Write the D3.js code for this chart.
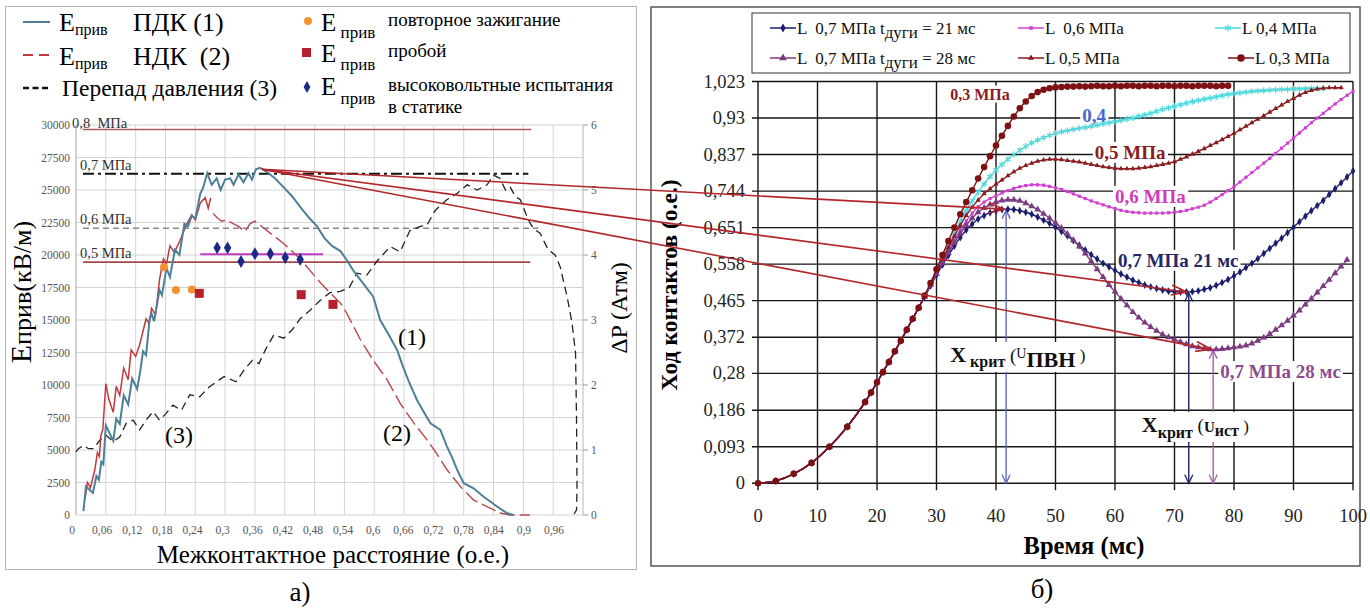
<!DOCTYPE html>
<html><head><meta charset="utf-8">
<script src="https://cdn.jsdelivr.net/npm/d3@7"></script>
<style>
body{margin:0;background:#fff}
svg{display:block}
text{font-family:"Liberation Serif","Times New Roman",serif;white-space:pre}
</style>
</head><body>
<svg id="fig" width="1370" height="609" font-family="Liberation Serif, serif"></svg>
<script>
// ===== Panel а): breakdown field strength vs. contact gap =====
const gapTicks = [0,0.06,0.12,0.18,0.24,0.3,0.36,0.42,0.48,0.54,0.6,0.66,0.72,0.78,0.84,0.9,0.96];
const fieldTicks = [0,2500,5000,7500,10000,12500,15000,17500,20000,22500,25000,27500,30000];
const dpTicks = [0,1,2,3,4,5,6];

// curve (1) E_прив ПДК  [gap, kV/m]
const curvePDK = [[0.015,300],[0.02,2200],[0.034,1700],[0.041,3000],[0.046,2700],[0.051,4100],[0.055,3900],[0.06,6900],[0.075,5700],[0.081,7400],[0.088,7000],[0.096,9200],[0.105,8500],[0.113,10500],[0.123,9700],[0.129,11000],[0.135,12600],[0.141,12300],[0.148,15000],[0.152,15500],[0.157,14900],[0.168,17300],[0.173,16900],[0.182,19000],[0.189,18300],[0.199,20400],[0.208,20000],[0.218,22400],[0.225,22200],[0.233,23000],[0.24,22800],[0.25,24700],[0.256,25200],[0.264,26300],[0.273,25400],[0.283,25900],[0.291,25000],[0.3,25800],[0.31,25900],[0.317,25400],[0.327,26200],[0.337,25600],[0.347,26300],[0.354,25800],[0.362,26600],[0.37,26700],[0.384,26400],[0.4,25900],[0.418,25200],[0.435,24500],[0.451,23700],[0.468,22900],[0.485,22200],[0.5,21300],[0.515,20700],[0.532,20300],[0.545,19600],[0.558,18800],[0.578,17800],[0.598,16800],[0.612,15000],[0.63,13800],[0.646,12700],[0.656,11600],[0.666,10600],[0.676,9700],[0.686,8850],[0.7,7900],[0.713,7050],[0.733,6550],[0.746,5300],[0.757,4400],[0.767,3450],[0.78,2450],[0.8,2050],[0.82,1400],[0.835,1000],[0.847,650],[0.867,150],[0.88,0]];
// curve (2) E_прив НДК, rising and falling branches
const curveNDKRise = [[0.018,1200],[0.023,2500],[0.029,2100],[0.038,3500],[0.043,4800],[0.047,4500],[0.05,6100],[0.054,6600],[0.06,10100],[0.066,8900],[0.075,7900],[0.081,9900],[0.088,9200],[0.096,11300],[0.105,10400],[0.111,12700],[0.12,12200],[0.128,13100],[0.141,15100],[0.147,14700],[0.152,15900],[0.16,15400],[0.168,18100],[0.176,19700],[0.182,19300],[0.189,20700],[0.198,20200],[0.209,21100],[0.223,22400],[0.233,23100],[0.24,22700],[0.25,24000],[0.26,24400],[0.266,23600],[0.271,24400]];
const curveNDKFall = [[0.276,23200],[0.283,22900],[0.293,22600],[0.303,22700],[0.317,22400],[0.327,22200],[0.34,21800],[0.35,22400],[0.36,22600],[0.377,22100],[0.39,21700],[0.404,21300],[0.417,20900],[0.434,20300],[0.451,19700],[0.471,18800],[0.491,17900],[0.508,17200],[0.532,16300],[0.545,15500],[0.572,13500],[0.598,11900],[0.626,10400],[0.652,8600],[0.679,7100],[0.706,5800],[0.726,4700],[0.746,3500],[0.773,2200],[0.8,1150],[0.827,650],[0.853,150],[0.873,0],[0.913,0]];
// curve (3) pressure difference [gap, atm]
const curveDP = [[0,0.97],[0.005,1.02],[0.015,1.07],[0.025,1.02],[0.035,1.02],[0.048,1.15],[0.06,1.23],[0.075,1.13],[0.088,1.2],[0.101,1.41],[0.115,1.46],[0.128,1.31],[0.141,1.46],[0.155,1.59],[0.168,1.46],[0.181,1.56],[0.195,1.69],[0.212,1.61],[0.229,1.85],[0.249,1.82],[0.268,1.97],[0.298,2.13],[0.322,2.05],[0.338,2.23],[0.355,2.38],[0.368,2.33],[0.381,2.54],[0.398,2.77],[0.418,2.72],[0.435,2.85],[0.451,3.02],[0.471,3.15],[0.491,3.3],[0.511,3.42],[0.532,3.44],[0.55,3.5],[0.565,3.72],[0.585,3.69],[0.605,3.9],[0.632,4.13],[0.652,4.05],[0.672,4.38],[0.693,4.44],[0.706,4.46],[0.723,4.69],[0.746,4.85],[0.767,4.95],[0.787,5.08],[0.807,5.0],[0.827,5.08],[0.84,5.23],[0.853,5.18],[0.864,5.0],[0.873,5.05],[0.884,4.9],[0.894,4.85],[0.91,4.54],[0.92,4.41],[0.934,4.33],[0.95,4.08],[0.964,4.0],[0.974,3.82],[0.988,3.36],[0.998,2.95],[1.005,2.49],[1.007,1.46],[1.008,0.44],[1.007,0.08],[1.001,0]];
// experimental points
const reignitionPts = [[0.177,19050],[0.201,17300],[0.233,17350]];
const breakdownPts = [[0.248,17050],[0.453,16950],[0.517,16200]];
const staticTestPts = [[0.284,20550],[0.305,20550],[0.332,19500],[0.36,20100],[0.391,20100],[0.421,19800],[0.451,19650]];
const staticBand = [[0.25,20050],[0.497,20050]];
// gas pressure levels
const levelNames = ["0,8  МПа","0,7 МПа","0,6 МПа","0,5 МПа"];
const levelField = [29650,26250,22050,19450];
const levelEnd = [0.916,0.91,0.93,0.914];
const levelStart = 0.014;

// ===== Panel б): contact travel vs. time =====
const timeTicks = [0,10,20,30,40,50,60,70,80,90,100];
const travelTicks = [0,0.093,0.186,0.28,0.372,0.465,0.558,0.651,0.744,0.837,0.93,1.023];
const travelTickLabels = ["0","0,093","0,186","0,28","0,372","0,465","0,558","0,651","0,744","0,837","0,93","1,023"];
const riseTime = [0,3,6,9,12,15,18,19,20,21,22,23,24,25,26,27];
const riseTravel = [0,0.006,0.024,0.052,0.093,0.144,0.207,0.231,0.257,0.283,0.309,0.336,0.363,0.391,0.419,0.447];
const tailTime = [28,29,30,31,32,33,34,35,36,37,38,39,40,41,42,43,44,45,46,47,48,49,50,51,52,53,54,55,56,57,58,59,60,61,62,63,64,65,66,67,68,69,70,71,72,73,74,75,76,77,78,79,80,81,82,83,84,85,86,87,88,89,90,91,92,93,94,95,96,97,98,99,100];
const travel04 = [0.476,0.508,0.54,0.573,0.606,0.637,0.667,0.694,0.719,0.741,0.762,0.781,0.798,0.812,0.825,0.837,0.848,0.858,0.867,0.874,0.88,0.886,0.891,0.895,0.898,0.901,0.904,0.906,0.909,0.912,0.915,0.918,0.921,0.924,0.927,0.93,0.934,0.938,0.942,0.947,0.952,0.956,0.96,0.964,0.968,0.972,0.975,0.978,0.981,0.984,0.987,0.99,0.992,0.994,0.996,0.998,0.999,1.0,1.001,1.002,1.003,1.003,1.004,1.004,1.005,1.005,1.005,1.005];
const travel06 = [0.476,0.506,0.535,0.564,0.592,0.619,0.645,0.668,0.688,0.704,0.716,0.725,0.732,0.739,0.745,0.751,0.755,0.758,0.76,0.76,0.759,0.756,0.752,0.748,0.743,0.737,0.731,0.725,0.719,0.714,0.709,0.704,0.699,0.695,0.692,0.69,0.689,0.688,0.688,0.688,0.688,0.689,0.69,0.692,0.695,0.699,0.703,0.708,0.716,0.725,0.735,0.745,0.755,0.767,0.779,0.791,0.803,0.815,0.827,0.84,0.853,0.866,0.879,0.892,0.905,0.918,0.93,0.942,0.954,0.966,0.977,0.988,0.998];
const travel05 = [0.476,0.507,0.538,0.569,0.6,0.629,0.657,0.682,0.703,0.721,0.737,0.75,0.762,0.772,0.783,0.793,0.802,0.809,0.815,0.82,0.823,0.825,0.825,0.824,0.822,0.82,0.818,0.815,0.812,0.809,0.806,0.804,0.802,0.801,0.801,0.801,0.802,0.804,0.806,0.809,0.812,0.815,0.819,0.825,0.831,0.838,0.845,0.852,0.86,0.867,0.875,0.883,0.891,0.9,0.909,0.918,0.927,0.936,0.945,0.954,0.963,0.972,0.98,0.988,0.995,1.0,1.004,1.006,1.007,1.007,1.007];
const travel03 = [0.478,0.51,0.545,0.581,0.617,0.651,0.685,0.716,0.746,0.776,0.805,0.833,0.86,0.885,0.91,0.934,0.955,0.972,0.986,0.996,1.002,1.006,1.008,1.009,1.01,1.01,1.011,1.01,1.011,1.012,1.011,1.011,1.012,1.011,1.012,1.012,1.011,1.012,1.012,1.011,1.012,1.012,1.011,1.012,1.012,1.011,1.012,1.012,1.012,1.011,1.012,1.012];
const travel07t21 = [0.475,0.503,0.53,0.556,0.58,0.604,0.626,0.645,0.66,0.673,0.682,0.689,0.694,0.697,0.698,0.697,0.694,0.69,0.685,0.678,0.67,0.662,0.652,0.641,0.63,0.618,0.606,0.594,0.582,0.571,0.56,0.551,0.542,0.533,0.525,0.517,0.511,0.505,0.5,0.496,0.492,0.489,0.488,0.487,0.487,0.488,0.49,0.494,0.498,0.504,0.511,0.519,0.528,0.538,0.549,0.56,0.572,0.585,0.598,0.611,0.624,0.638,0.652,0.666,0.68,0.694,0.707,0.72,0.735,0.75,0.765,0.78,0.795];
const travel07t28 = [0.475,0.505,0.533,0.56,0.586,0.612,0.636,0.657,0.675,0.69,0.701,0.71,0.716,0.72,0.722,0.722,0.719,0.713,0.705,0.697,0.686,0.675,0.663,0.65,0.635,0.619,0.603,0.585,0.565,0.545,0.525,0.505,0.488,0.47,0.453,0.436,0.422,0.409,0.398,0.388,0.379,0.372,0.366,0.36,0.354,0.349,0.346,0.343,0.341,0.341,0.342,0.344,0.346,0.348,0.351,0.356,0.363,0.371,0.38,0.391,0.402,0.414,0.427,0.44,0.455,0.47,0.486,0.502,0.518,0.535,0.552,0.569];
// critical travel points on the 0,7 МПа curves [time, travel]
const critPVN = [41.7,0.698];
const crit21 = [72.4,0.487];
const crit28 = [76.5,0.341];
// field peak from which the links start [gap, kV/m]
const linkOrigin = [0.374,26600];

// ---------- helpers ----------
const svg = d3.select("#fig");
const defs = svg.append("defs");
function openHead(id, color, len, half, w){
  defs.append("marker").attr("id",id)
    .attr("viewBox",`0 0 ${len+2} ${2*half+2}`).attr("refX",len+0.5).attr("refY",half+1)
    .attr("markerWidth",len+2).attr("markerHeight",2*half+2)
    .attr("markerUnits","userSpaceOnUse").attr("orient","auto-start-reverse")
    .append("path").attr("d",`M1,1 L${len+0.5},${half+1} L1,${2*half+1}`)
    .attr("fill","none").attr("stroke",color).attr("stroke-width",w);
}
openHead("hRed","#b3262b",16,5,1.6);
openHead("hBlue","#5a68c0",9,4,1.3);
openHead("hNavy","#1f2060",9,4,1.3);
openHead("hPurple","#a463a8",9,4,1.3);

function rich(g, x, y, parts, attrs){
  const t = g.append("text").attr("x",x).attr("y",y);
  Object.entries(attrs||{}).forEach(([k,v])=>t.attr(k,v));
  parts.forEach(p=>{
    const s = t.append("tspan").text(p.t);
    if(p.size) s.attr("font-size",p.size);
    if(p.dy) s.attr("dy",p.dy);
    if(p.dx) s.attr("dx",p.dx);
    if(p.x!==undefined) s.attr("x",p.x);
    if(p.w) s.attr("font-weight",p.w);
  });
  return t;
}

// ---------- panel frames ----------
svg.append("rect").attr("x",5.5).attr("y",6.5).attr("width",631).attr("height",563)
  .attr("fill","none").attr("stroke","#b5b5b5");
svg.append("rect").attr("x",651).attr("y",7).attr("width",709).attr("height",559)
  .attr("fill","none").attr("stroke","#555").attr("stroke-width",1.5);

// ================= panel а) =================
const xGap = d3.scaleLinear().domain([0,1.02]).range([76,583]);
const xGapLabel = d3.scaleLinear().domain([0,0.96]).range([72,554]);
const yField = d3.scaleLinear().domain([0,30000]).range([515,125]);
const yDP = d3.scaleLinear().domain([0,6]).range([515,125]);
const A = svg.append("g");

A.selectAll(".gv").data(gapTicks).join("line")
  .attr("x1",d=>xGap(d)).attr("x2",d=>xGap(d)).attr("y1",yField(30000)).attr("y2",yField(0))
  .attr("stroke","#d4d4d4").attr("stroke-width",1);
A.selectAll(".gh").data(fieldTicks).join("line")
  .attr("x1",xGap(0)).attr("x2",xGap(1.02)).attr("y1",d=>yField(d)).attr("y2",d=>yField(d))
  .attr("stroke","#d4d4d4").attr("stroke-width",1);
A.append("line").attr("x1",xGap(0)).attr("x2",xGap(0)).attr("y1",yField(30000)).attr("y2",yField(0)).attr("stroke","#b8b8b8");
A.append("line").attr("x1",xGap(1.02)).attr("x2",xGap(1.02)).attr("y1",yField(30000)).attr("y2",yField(0)).attr("stroke","#b8b8b8");
A.selectAll(".rt").data(dpTicks).join("line")
  .attr("x1",xGap(1.02)).attr("x2",xGap(1.02)+5).attr("y1",d=>yDP(d)).attr("y2",d=>yDP(d)).attr("stroke","#999");

A.selectAll(".yl").data(fieldTicks).join("text")
  .attr("x",70).attr("y",d=>yField(d)+4).attr("text-anchor","end")
  .attr("font-size",11.5).attr("fill","#555").text(d=>d);
A.selectAll(".xl").data(gapTicks).join("text")
  .attr("x",d=>xGapLabel(d)).attr("y",534).attr("text-anchor","middle")
  .attr("font-size",11.5).attr("fill","#555").text(d=>String(d).replace(".",","));
A.selectAll(".pl").data(dpTicks).join("text")
  .attr("x",xGap(1.02)+8).attr("y",d=>yDP(d)+4)
  .attr("font-size",11.5).attr("fill","#555").text(d=>d);

// pressure levels
const levelStyles = [
  {stroke:"#b05a5a",w:1.6,dash:null},
  {stroke:"#111",w:2,dash:"11,4,3,4"},
  {stroke:"#888",w:1.5,dash:"6,4"},
  {stroke:"#a24848",w:1.8,dash:null}
];
levelNames.forEach((name,i)=>{
  const st = levelStyles[i];
  A.append("line").attr("x1",xGap(levelStart)).attr("x2",xGap(levelEnd[i]))
    .attr("y1",yField(levelField[i])).attr("y2",yField(levelField[i]))
    .attr("stroke",st.stroke).attr("stroke-width",st.w).attr("stroke-dasharray",st.dash);
  A.append("text").attr("x",i===0?72:80).attr("y",yField(levelField[i])-(i===0?2:4))
    .attr("font-size",14.5).attr("fill","#333").text(name);
});
A.append("line").attr("x1",xGap(staticBand[0][0])).attr("x2",xGap(staticBand[1][0]))
  .attr("y1",yField(staticBand[0][1])).attr("y2",yField(staticBand[1][1]))
  .attr("stroke","#c23ac2").attr("stroke-width",2);

const lineF = d3.line().x(d=>xGap(d[0])).y(d=>yField(d[1]));
const lineP = d3.line().x(d=>xGap(d[0])).y(d=>yDP(d[1]));
A.append("path").attr("d",lineP(curveDP)).attr("fill","none").attr("stroke","#222")
  .attr("stroke-width",1.3).attr("stroke-dasharray","8,5");
A.append("path").attr("d",lineF(curveNDKRise)).attr("fill","none").attr("stroke","#c0393f").attr("stroke-width",1.5);
A.append("path").attr("d",lineF(curveNDKFall)).attr("fill","none").attr("stroke","#b8474c")
  .attr("stroke-width",1.4).attr("stroke-dasharray","15,5");
A.append("path").attr("d",lineF(curvePDK)).attr("fill","none").attr("stroke","#4d8096").attr("stroke-width",2);

A.selectAll(".ro").data(reignitionPts).join("circle")
  .attr("cx",d=>xGap(d[0])).attr("cy",d=>yField(d[1])).attr("r",4).attr("fill","#f5922f");
A.selectAll(".bd").data(breakdownPts).join("rect")
  .attr("x",d=>xGap(d[0])-4.5).attr("y",d=>yField(d[1])-4.5).attr("width",9).attr("height",9).attr("fill","#b71f2a");
A.selectAll(".st").data(staticTestPts).join("path")
  .attr("transform",d=>`translate(${xGap(d[0])},${yField(d[1])})`)
  .attr("d",d3.symbol(d3.symbolDiamond,48)).attr("fill","#1c2a86");

A.append("text").attr("x",398).attr("y",345).attr("font-size",24).text("(1)");
A.append("text").attr("x",383).attr("y",441).attr("font-size",24).text("(2)");
A.append("text").attr("x",165).attr("y",443).attr("font-size",24).text("(3)");

// axis titles
rich(A,0,0,[{t:"E",size:30},{t:"прив",size:26},{t:"(кВ/м)",size:26}],
  {transform:"translate(31,292) rotate(-90)","text-anchor":"middle"});
rich(A,0,0,[{t:"ΔP (Атм)",size:24}],{transform:"translate(627,308) rotate(-90)","text-anchor":"middle"});
A.append("text").attr("x",333).attr("y",563).attr("text-anchor","middle").attr("font-size",25)
  .text("Межконтактное расстояние (о.е.)");
A.append("text").attr("x",300).attr("y",601).attr("text-anchor","middle").attr("font-size",27).text("а)");

// legend of panel а)
A.append("line").attr("x1",23).attr("x2",50).attr("y1",22).attr("y2",22).attr("stroke","#4d8096").attr("stroke-width",2);
rich(A,59,31,[{t:"E",size:26},{t:"прив",size:16,dy:4},{t:"ПДК",size:26,x:133,dy:-4},{t:" (1)",size:26}]);
A.append("line").attr("x1",23).attr("x2",50).attr("y1",55).attr("y2",55).attr("stroke","#c0393f")
  .attr("stroke-width",1.8).attr("stroke-dasharray","10,6");
rich(A,59,65,[{t:"E",size:26},{t:"прив",size:16,dy:4},{t:"НДК",size:26,x:133,dy:-4},{t:"  (2)",size:26}]);
A.append("line").attr("x1",23).attr("x2",50).attr("y1",88).attr("y2",88).attr("stroke","#111")
  .attr("stroke-width",2.4).attr("stroke-dasharray","6,3.5");
A.append("text").attr("x",62).attr("y",96).attr("font-size",23.5).text("Перепад давления (3)");

A.append("circle").attr("cx",308).attr("cy",21).attr("r",4).attr("fill","#f5922f");
rich(A,321,31,[{t:"E",size:25},{t:" прив",size:17,dy:7}]);
A.append("text").attr("x",388).attr("y",26).attr("font-size",19).text("повторное зажигание");
A.append("rect").attr("x",302).attr("y",48).attr("width",9).attr("height",9).attr("fill","#b71f2a");
rich(A,321,62,[{t:"E",size:25},{t:" прив",size:17,dy:8}]);
A.append("text").attr("x",388).attr("y",57).attr("font-size",19).text("пробой");
A.append("path").attr("transform","translate(307,87)").attr("d",d3.symbol(d3.symbolDiamond,40)).attr("fill","#1c2a86");
rich(A,321,95,[{t:"E",size:25},{t:" прив",size:17,dy:9}]);
A.append("text").attr("x",388).attr("y",91).attr("font-size",19).text("высоковольтные испытания");
A.append("text").attr("x",388).attr("y",113).attr("font-size",19).text("в статике");

// ================= panel б) =================
const xTime = d3.scaleLinear().domain([0,100]).range([758,1353]);
const yTravel = d3.scaleLinear().domain([0,1.023]).range([483.3,81.5]);
const B = svg.append("g");
const gridB = B.append("g"), critB = B.append("g"), bgB = B.append("g"), curvesB = B.append("g"), textB = B.append("g");

gridB.selectAll("line.v").data(timeTicks).join("line")
  .attr("x1",d=>xTime(d)).attr("x2",d=>xTime(d)).attr("y1",yTravel(1.023)).attr("y2",yTravel(0)+7)
  .attr("stroke","#161616").attr("stroke-width",1.4);
gridB.selectAll("line.h").data(travelTicks).join("line")
  .attr("x1",xTime(0)-6).attr("x2",xTime(100)).attr("y1",d=>yTravel(d)).attr("y2",d=>yTravel(d))
  .attr("stroke","#161616").attr("stroke-width",1.4);
gridB.selectAll("text.x").data(timeTicks).join("text")
  .attr("x",d=>xTime(d)).attr("y",522).attr("text-anchor","middle").attr("font-size",18.5).attr("fill","#222").text(d=>d);
gridB.selectAll("text.y").data(travelTicks).join("text")
  .attr("x",745).attr("y",(d)=>yTravel(d)+6).attr("text-anchor","end").attr("font-size",18.5).attr("fill","#222")
  .text((d,i)=>travelTickLabels[i]);

rich(B,0,0,[{t:"Ход контактов (о.е.)",size:23.5,w:"bold"}],{transform:"translate(677,285) rotate(-90)","text-anchor":"middle"});
B.append("text").attr("x",1084).attr("y",554).attr("text-anchor","middle").attr("font-size",24.5)
  .attr("font-weight","bold").text("Время (мс)");
B.append("text").attr("x",1042).attr("y",598).attr("text-anchor","middle").attr("font-size",27).text("б)");

// critical travel markers
[[critPVN,"#5a68c0","hBlue"],[crit21,"#1f2060","hNavy"],[crit28,"#a463a8","hPurple"]].forEach(([p,c,h])=>{
  critB.append("line").attr("x1",xTime(p[0])).attr("x2",xTime(p[0]))
    .attr("y1",yTravel(p[1])+1).attr("y2",yTravel(0))
    .attr("stroke",c).attr("stroke-width",1.4)
    .attr("marker-start",`url(#${h})`).attr("marker-end",`url(#${h})`);
});

// series
const series = [
  {name:"L 0,4 МПа", values:travel04, color:"#4fd9dc", sym:d3.symbolAsterisk, size:28, stroke:true},
  {name:"L 0,6 МПа", values:travel06, color:"#d040d0", sym:d3.symbolSquare, size:10},
  {name:"L 0,5 МПа", values:travel05, color:"#8a1b1e", sym:d3.symbolTriangle, size:12},
  {name:"L 0,7 МПа 21", values:travel07t21, color:"#1b1d6e", sym:d3.symbolDiamond, size:18},
  {name:"L 0,7 МПа 28", values:travel07t28, color:"#7c3a80", sym:d3.symbolTriangle, size:20},
  {name:"L 0,3 МПа", values:travel03, color:"#7e1014", sym:d3.symbolCircle, size:34}
];
const lineT = d3.line().x(d=>xTime(d[0])).y(d=>yTravel(d[1])).curve(d3.curveMonotoneX);
series.forEach(s=>{
  const pts = riseTime.map((t,i)=>[t,riseTravel[i]]).concat(s.values.map((v,i)=>[tailTime[i],v]));
  const g = curvesB.append("g");
  g.append("path").attr("d",lineT(pts)).attr("fill","none").attr("stroke",s.color).attr("stroke-width",1.4);
  g.selectAll("path.m").data(pts).join("path")
    .attr("transform",d=>`translate(${xTime(d[0])},${yTravel(d[1])})`)
    .attr("d",d3.symbol(s.sym,s.size))
    .attr("fill",s.stroke?"none":s.color).attr("stroke",s.stroke?s.color:"none").attr("stroke-width",1.2);
});

// in-plot labels with white backing
function tag(x, y, parts, color){
  const t = rich(textB,x,y,parts,{fill:color,"font-weight":"bold"});
  const b = t.node().getBBox();
  bgB.append("rect").attr("x",b.x-2).attr("y",b.y).attr("width",b.width+4).attr("height",b.height)
    .attr("fill","#fff");
}
tag(xTime(32.3),yTravel(0.977),[{t:"0,3 МПа",size:16}],"#8a1b1e");
tag(xTime(54.5),yTravel(0.921),[{t:"0,4",size:19}],"#4a66cc");
tag(xTime(56.6),yTravel(0.826),[{t:"0,5 МПа",size:19}],"#8a1b1e");
tag(xTime(60),yTravel(0.714),[{t:"0,6 МПа",size:19}],"#d23bb8");
tag(xTime(60.5),yTravel(0.551),[{t:"0,7 МПа 21 мс",size:19}],"#1f2a6a");
tag(xTime(77.7),yTravel(0.268),[{t:"0,7 МПа 28 мс",size:19}],"#8d4b8f");
tag(xTime(32.3),yTravel(0.309),[{t:"X",size:22},{t:" крит",size:16,dy:5},{t:" (",size:19,dy:-5,w:"normal"},{t:"U",size:14,dy:-4,w:"normal"},{t:"ПВН",size:22,dy:9},{t:" )",size:17,dy:-6,w:"normal"}],"#111");
tag(xTime(64.5),yTravel(0.131),[{t:"X",size:22},{t:"крит",size:16,dy:6},{t:" (",size:19,dy:-6,w:"normal"},{t:"U",size:15},{t:"ист",size:16,dy:4},{t:" )",size:17,dy:-4,w:"normal"}],"#111");

// legend of panel б)
const L = B.append("g");
L.append("rect").attr("x",752).attr("y",13).attr("width",598).attr("height",60).attr("fill","#fff").attr("stroke","#333");
const legendItems = [
  {s:3,x:770,y:28,parts:[{t:"L  0,7 МПа t"},{t:"дуги",dy:4},{t:" = 21 мс",dy:-4}]},
  {s:4,x:770,y:58,parts:[{t:"L  0,7 МПа t"},{t:"дуги",dy:4},{t:" = 28 мс",dy:-4}]},
  {s:1,x:1018,y:28,parts:[{t:"L  0,6 МПа"}]},
  {s:2,x:1018,y:58,parts:[{t:"L 0,5 МПа"}]},
  {s:0,x:1215,y:28,parts:[{t:"L 0,4 МПа"}]},
  {s:5,x:1228,y:58,parts:[{t:"L 0,3 МПа"}]}
];
legendItems.forEach(it=>{
  const s = series[it.s];
  L.append("line").attr("x1",it.x).attr("x2",it.x+26).attr("y1",it.y).attr("y2",it.y).attr("stroke",s.color).attr("stroke-width",1.5);
  L.append("path").attr("transform",`translate(${it.x+13},${it.y})`).attr("d",d3.symbol(s.sym,s.size*1.3))
    .attr("fill",s.stroke?"none":s.color).attr("stroke",s.stroke?s.color:"none").attr("stroke-width",1.2);
  rich(L,it.x+27,it.y+6,it.parts.map(p=>Object.assign({size:17},p)),{fill:"#111"});
});

// links from the field peak to the critical travel points
const links = svg.append("g");
[critPVN,crit21,crit28].forEach(p=>{
  links.append("line").attr("x1",xGap(linkOrigin[0])).attr("y1",yField(linkOrigin[1]))
    .attr("x2",xTime(p[0])-2).attr("y2",yTravel(p[1]))
    .attr("stroke","#b3262b").attr("stroke-width",1.6).attr("marker-end","url(#hRed)");
});
</script>
</body></html>
